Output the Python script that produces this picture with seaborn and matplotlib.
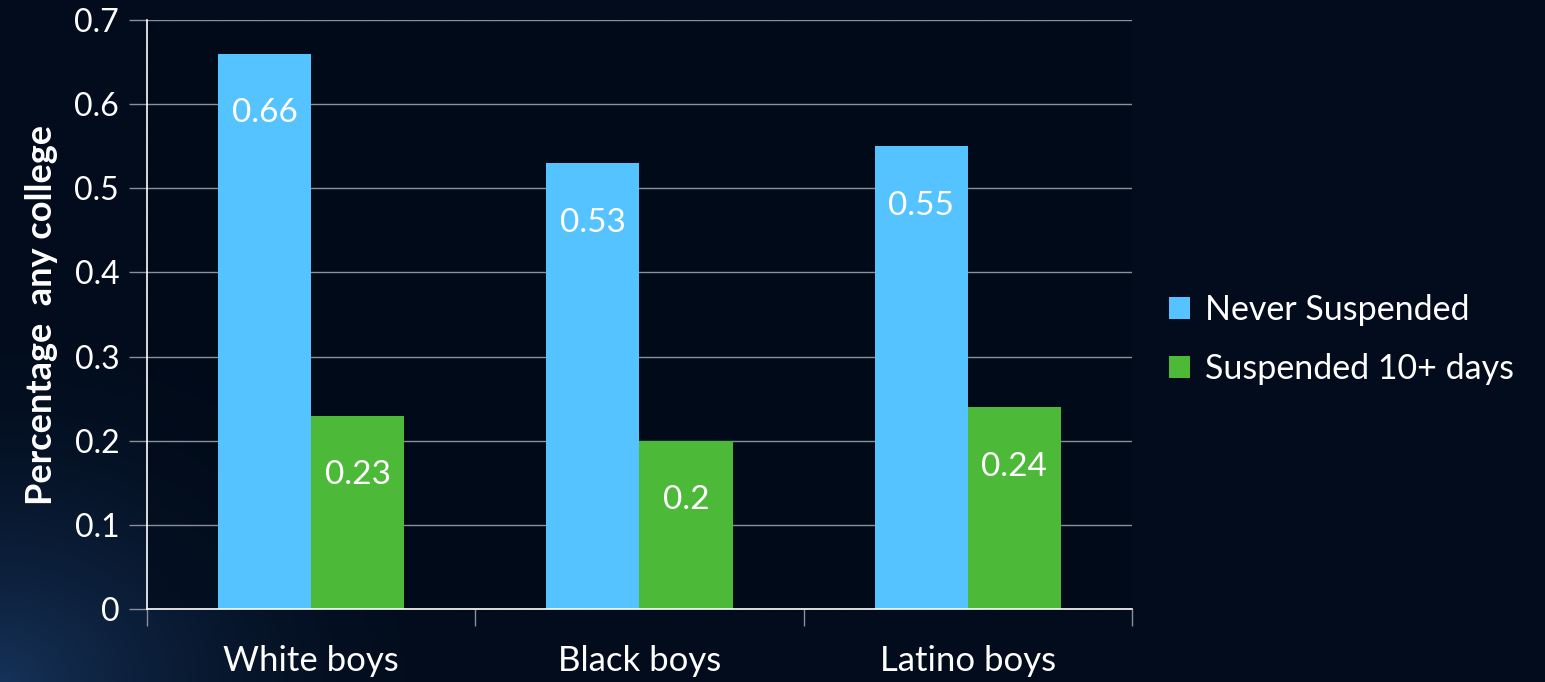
import numpy as np
import pandas as pd
import seaborn as sns
import matplotlib.pyplot as plt
from matplotlib.patches import Patch

# --- data ---
groups = ["White boys", "Black boys", "Latino boys"]
never_susp = [0.66, 0.53, 0.55]
susp_10 = [0.23, 0.20, 0.24]
series = ["Never Suspended", "Suspended 10+ days"]
colors = ["#55C3FF", "#4CB938"]

df = pd.DataFrame({
    "Group": groups * 2,
    "Series": [series[0]] * 3 + [series[1]] * 3,
    "Value": never_susp + susp_10,
})

sns.set_style("dark")
plt.rcParams["font.family"] = ["Lato", "DejaVu Sans"]

bg = "#020c1c"
fig = plt.figure(figsize=(15.45, 6.82), dpi=100, facecolor=bg)

# background glow, bottom-left
bg_ax = fig.add_axes([0, 0, 1, 1], zorder=-10)
yy, xx = np.mgrid[0:1:300j, 0:1:600j]
d = np.sqrt((xx / 0.3) ** 2 + (yy / 0.55) ** 2)
glow = np.clip(1 - d, 0, 1) ** 1.8
base = np.array([2, 12, 28]) / 255
hi = np.array([22, 50, 88]) / 255
img = base + glow[..., None] * (hi - base)
bg_ax.imshow(img, origin="lower", aspect="auto", extent=[0, 1, 0, 1])
bg_ax.axis("off")

ax = fig.add_axes([0.0951, 0.107, 0.6376, 0.8636])
ax.set_facecolor("#010a18")
ax.patch.set_alpha(0.6)

sns.barplot(data=df, x="Group", y="Value", hue="Series", palette=colors,
            width=0.567, gap=0, saturation=1, ax=ax, legend=False,
            linewidth=0, edgecolor="none", zorder=3)

ax.set_ylim(0, 0.7)
ax.set_xlim(-0.5, 2.5)
ax.set_yticks(np.arange(0, 0.71, 0.1))
ax.set_yticklabels(["0", "0.1", "0.2", "0.3", "0.4", "0.5", "0.6", "0.7"])
ax.yaxis.grid(True, color="#8a8f99", lw=1.0)
ax.xaxis.grid(False)
ax.tick_params(axis="y", colors="#8a8f99", labelcolor="white", labelsize=23,
               length=13, width=1, direction="out", left=True, pad=7)
ax.tick_params(axis="x", labelcolor="white", labelsize=25, length=0, pad=26)
ax.set_xticks([-0.5, 0.5, 1.5, 2.5], minor=True)
ax.tick_params(axis="x", which="minor", colors="#8a8f99", length=12, width=1,
               direction="out", bottom=True)

for s in ["top", "right"]:
    ax.spines[s].set_visible(False)
for s in ["left", "bottom"]:
    ax.spines[s].set_color("white")
    ax.spines[s].set_linewidth(1.2)
    ax.spines[s].set_zorder(4)

ax.set_xlabel("")
ax.set_ylabel("Percentage  any college", color="white", fontsize=26,
              fontweight="bold", labelpad=12)

for cont in ax.containers:
    for bar in cont:
        h = bar.get_height()
        ax.annotate(f"{h:g}", (bar.get_x() + bar.get_width() / 2, h),
                    xytext=(0, -43), textcoords="offset points",
                    ha="center", va="center", color="white", fontsize=24,
                    zorder=5)

handles = [Patch(facecolor=c, edgecolor="none") for c in colors]
leg = fig.legend(handles, series, loc="center left",
                 bbox_to_anchor=(0.737, 0.502), frameon=False,
                 fontsize=24.5, labelcolor="white", handlelength=0.6,
                 handleheight=0.6, handletextpad=0.45, labelspacing=0.8)

fig.savefig("out.png", dpi=100, facecolor=bg)
